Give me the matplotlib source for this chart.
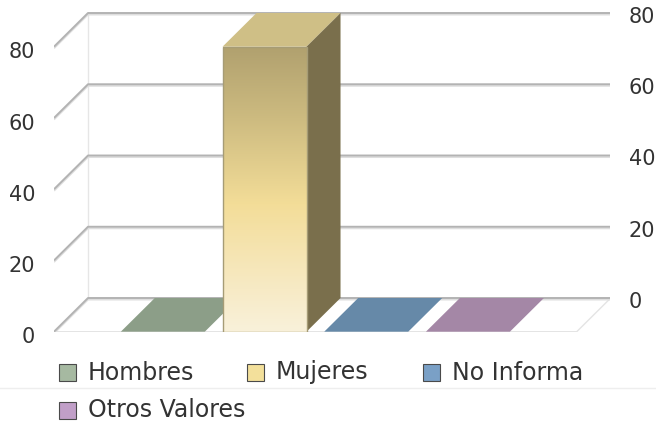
import matplotlib

matplotlib.use("Agg")
import matplotlib.pyplot as plt
import numpy as np
from matplotlib.colors import LinearSegmentedColormap
from matplotlib.patches import Polygon, Rectangle

categories = ["Hombres", "Mujeres", "No Informa", "Otros Valores"]
values = [0, 80, 0, 0]
y_ticks = [0, 20, 40, 60, 80]
legend_colors = ["#a6b9a1", "#f3e09b", "#7aa0c6", "#c19fc8"]
top_colors = ["#8c9e88", "#cfbf86", "#6689a8", "#a487a6"]
side_colors = ["#6d7c69", "#7a6f4c", "#4d6a84", "#806884"]

W, H, DPI = 656, 424, 100
PX_X = 101.7    # pixels per category step
PX_Y = 3.5625   # pixels per value unit
DX, DY = 34 / PX_X, 33.7 / PX_Y  # depth offset in data units
X0, X1 = -1.07, 4.07
BAR_W = 0.826
TEXT = "#333333"
FONT = dict(family="DejaVu Sans", color=TEXT)

fig = plt.figure(figsize=(W / DPI, H / DPI), dpi=DPI)
left_px, right_px, base_px, top_px = 54, 610, 331.7, 10
ax = fig.add_axes([left_px / W, (H - base_px) / H,
                   (right_px - left_px) / W, (base_px - top_px) / H])
xlim = (X0, X0 + (right_px - left_px) / PX_X)
ylim = (0, (base_px - top_px) / PX_Y)
ax.axis("off")

# floor / walls
ax.plot([X0, X1, X1 + DX], [0, 0, DY], color="#e4e4e4", lw=1, zorder=1)
ax.plot([X0 + DX, X0 + DX], [DY, 80 + DY], color="#e6e6e6", lw=1, zorder=1)
ax.plot([X1 + DX, X1 + DX], [DY, 80 + DY], color="#ededed", lw=1, zorder=1)
for v in y_ticks:
    xs = [X0, X0 + DX, X1 + DX]
    ys = [v, v + DY, v + DY]
    ax.plot(xs, [y - 0.45 for y in ys], color="#dedede", lw=1.3, zorder=1,
            solid_capstyle="butt")
    ax.plot(xs, ys, color="#b3b3b3", lw=1.4, zorder=2, solid_capstyle="butt")

cmap = LinearSegmentedColormap.from_list(
    "gold", [(0.0, "#f9f1da"), (0.15, "#f7eac5"), (0.45, "#f3dd98"),
             (0.75, "#cdbb80"), (1.0, "#b1a16f")])

for i, (v, tc, sc) in enumerate(zip(values, top_colors, side_colors)):
    xa, xb = i - BAR_W / 2, i + BAR_W / 2
    top = Polygon([(xa, v), (xb, v), (xb + DX, v + DY), (xa + DX, v + DY)],
                  closed=True, facecolor=tc, edgecolor="none", zorder=3)
    ax.add_patch(top)
    if v > 0:
        side = Polygon([(xb, 0), (xb + DX, DY), (xb + DX, v + DY), (xb, v)],
                       closed=True, facecolor=sc, edgecolor="none", zorder=3)
        ax.add_patch(side)
        grad = np.linspace(0, 1, 256).reshape(-1, 1)
        im = ax.imshow(grad, cmap=cmap, origin="lower", aspect="auto",
                       extent=(xa, xb, 0, v), zorder=4)
        front = Rectangle((xa, 0), BAR_W, v, facecolor="none",
                          edgecolor="#a69c76", lw=1, zorder=5)
        ax.add_patch(front)
        im.set_clip_path(front)

ax.set_xlim(*xlim)
ax.set_ylim(*ylim)

# axis labels, front (left) and back (right)
for v in y_ticks:
    ax.text(X0 - 19 / PX_X, v - 1.6, str(v), ha="right", va="center",
            fontsize=15, clip_on=False, **FONT)
    ax.text(X1 + DX + 18 / PX_X, v + DY - 1.1, str(v), ha="left", va="center",
            fontsize=15, clip_on=False, **FONT)

# legend
fig.add_artist(plt.Line2D([0, 1], [(H - 388) / H] * 2, color="#eeeeee", lw=1))
legend_pos = [(59, 372.5), (247, 372.5), (423, 372.5), (59, 410)]
for name, col, (px, py) in zip(categories, legend_colors, legend_pos):
    fig.add_artist(Rectangle((px / W, (H - py - 8.5) / H), 17 / W, 17 / H,
                             facecolor=col, edgecolor="#4a4a4a", lw=0.8,
                             transform=fig.transFigure))
    fig.text((px + 28.5) / W, (H - py) / H, name, ha="left", va="center",
             fontsize=17, **FONT)

fig.savefig("out.png", dpi=DPI)
